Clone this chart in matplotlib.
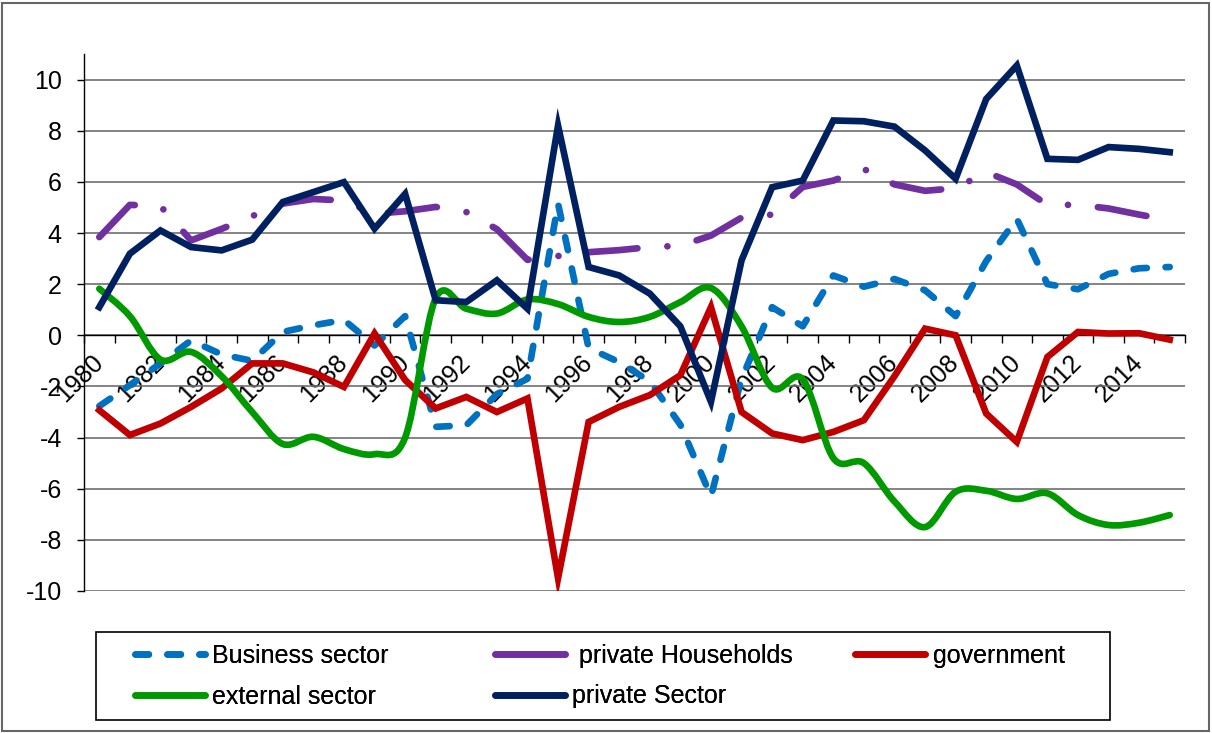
import numpy as np
import matplotlib
matplotlib.use('Agg')
import matplotlib.pyplot as plt
from matplotlib.path import Path
from matplotlib.patches import PathPatch, Rectangle
from matplotlib.lines import Line2D

plt.rcParams['font.family'] = ['Liberation Sans', 'DejaVu Sans']
plt.rcParams['axes.unicode_minus'] = False

years = list(range(1980, 2016))

business = [-2.77, -1.95, -1.1, -0.2, -0.75, -1.0, 0.13, 0.39, 0.6, -0.4,
            0.75, -3.58, -3.52, -2.3, -1.7, 5.15, -0.5, -1.05, -1.8, -3.5,
            -6.3, -1.7, 1.1, 0.35, 2.34, 1.9, 2.2, 1.76, 0.75, 2.9,
            4.56, 2.0, 1.8, 2.4, 2.62, 2.67]
households = [3.84, 5.1, 5.05, 3.71, 4.16, 4.66, 5.15, 5.33, 5.27, 4.75,
              4.85, 5.02, 4.82, 4.15, 2.95, 3.1, 3.25, 3.33, 3.45, 3.5,
              3.9, 4.6, 4.72, 5.8, 6.05, 6.5, 5.9, 5.65, 5.75, 6.38,
              5.9, 5.1, 5.1, 4.96, 4.72, 4.5]
government = [-2.93, -3.9, -3.45, -2.8, -2.08, -1.1, -1.1, -1.45, -2.02, 0.07,
              -1.75, -2.86, -2.41, -3.0, -2.47, -9.5, -3.39, -2.8, -2.34, -1.56,
              1.1, -3.0, -3.84, -4.1, -3.78, -3.32, -1.6, 0.26, 0.0, -3.06,
              -4.17, -0.85, 0.13, 0.07, 0.08, -0.17]
external = [1.82, 0.75, -0.95, -0.65, -1.6, -3.0, -4.25, -3.97, -4.45, -4.65,
            -4.0, 1.45, 1.04, 0.85, 1.4, 1.22, 0.72, 0.52, 0.72, 1.3,
            1.85, 0.35, -2.05, -1.72, -4.8, -5.0, -6.5, -7.5, -6.12, -6.08,
            -6.4, -6.18, -7.03, -7.42, -7.33, -7.03]
private = [1.1, 3.19, 4.1, 3.45, 3.32, 3.74, 5.21, 5.6, 5.99, 4.17,
           5.53, 1.37, 1.3, 2.15, 1.04, 8.2, 2.67, 2.34, 1.63, 0.35,
           -2.6, 2.93, 5.79, 6.05, 8.4, 8.37, 8.16, 7.23, 6.12, 9.24,
           10.55, 6.9, 6.86, 7.36, 7.29, 7.16]

c_bus = '#0070C0'
c_hh = '#7030A0'
c_gov = '#C00000'
c_ext = '#009A00'
c_priv = '#002060'
LW = 4.8
bus_dash = (2.0, 2.8)
hh_dash = (7.4, 4.5, 0.01, 4.5)


def smooth_path(xs, ys):
    # excel-like smoothed line: bezier segments with catmull-rom tangents
    pts = np.column_stack([xs, ys]).astype(float)
    n = len(pts)
    verts = [pts[0]]
    codes = [Path.MOVETO]
    for i in range(n - 1):
        p0 = pts[max(i - 1, 0)]
        p1 = pts[i]
        p2 = pts[i + 1]
        p3 = pts[min(i + 2, n - 1)]
        verts += [p1 + (p2 - p0) / 6, p2 - (p3 - p1) / 6, p2]
        codes += [Path.CURVE4] * 3
    return Path(verts, codes)


fig = plt.figure(figsize=(12.12, 7.33), dpi=100)
ax = fig.add_axes([84 / 1212, 1 - 591 / 733, (1185 - 84) / 1212, (591 - 54) / 733])

x = np.arange(len(years))

ax.plot(x, business, color=c_bus, lw=LW, dashes=bus_dash,
        dash_capstyle='round', zorder=3)
ax.plot(x, households, color=c_hh, lw=LW, dashes=hh_dash,
        dash_capstyle='round', zorder=3)
ax.plot(x, government, color=c_gov, lw=LW, solid_joinstyle='miter', zorder=3)
ax.add_patch(PathPatch(smooth_path(x, external), fill=False, ec=c_ext, lw=LW,
                       capstyle='round', zorder=3))
ax.plot(x, private, color=c_priv, lw=LW, solid_joinstyle='miter', zorder=3)

ax.set_xlim(-0.5, len(years) - 0.5)
ax.set_ylim(-10, 11)
ax.set_yticks(np.arange(-10, 11, 2))
ax.yaxis.grid(True, color='#6e6e6e', lw=1.2)
ax.set_axisbelow(True)

for s in ['top', 'right']:
    ax.spines[s].set_visible(False)
ax.spines['bottom'].set_position(('data', 0))
ax.spines['left'].set_linewidth(1.0)
ax.spines['bottom'].set_linewidth(1.0)

ax.set_xticks(x[::2])
ax.set_xticklabels([str(y) for y in years[::2]])
ax.set_xticks(np.arange(-0.5, len(years)), minor=True)
ax.tick_params(axis='x', which='major', length=0, pad=17, labelsize=18)
ax.tick_params(axis='x', which='minor', length=6, width=1, direction='out')
ax.tick_params(axis='y', length=5, width=1, pad=11, labelsize=18)
plt.setp(ax.get_xticklabels(), rotation=45, ha='right', va='center',
         rotation_mode='anchor')

# legend: three columns placed like the excel layout
h_bus = Line2D([], [], color=c_bus, lw=LW, dashes=bus_dash, dash_capstyle='round')
h_ext = Line2D([], [], color=c_ext, lw=LW, solid_capstyle='round')
h_hh = Line2D([], [], color=c_hh, lw=LW, solid_capstyle='round')
h_priv = Line2D([], [], color=c_priv, lw=LW, solid_capstyle='round')
h_gov = Line2D([], [], color=c_gov, lw=LW, solid_capstyle='round')

leg_kw = dict(loc='upper left', frameon=False, fontsize=18, handlelength=2.8,
              handletextpad=0.3, labelspacing=0.66, borderpad=0, borderaxespad=0)
columns = [([h_bus, h_ext], ['Business sector', 'external sector'], 135),
           ([h_hh, h_priv], [' private Households', 'private Sector'], 495),
           ([h_gov], ['government'], 855)]
for hs, ls, xpx in columns:
    fig.add_artist(fig.legend(hs, ls, bbox_to_anchor=(xpx / 1212, 1 - 644 / 733),
                              **leg_kw))

fig.add_artist(Rectangle((96 / 1212, 1 - 720 / 733), (1110 - 96) / 1212, 88 / 733,
                         transform=fig.transFigure, fill=False, ec='black', lw=1.2))
fig.add_artist(Rectangle((2 / 1212, 2 / 733), 1207 / 1212, 728 / 733,
                         transform=fig.transFigure, fill=False, ec='#666666', lw=1.5))

fig.savefig('out.png', dpi=100)
